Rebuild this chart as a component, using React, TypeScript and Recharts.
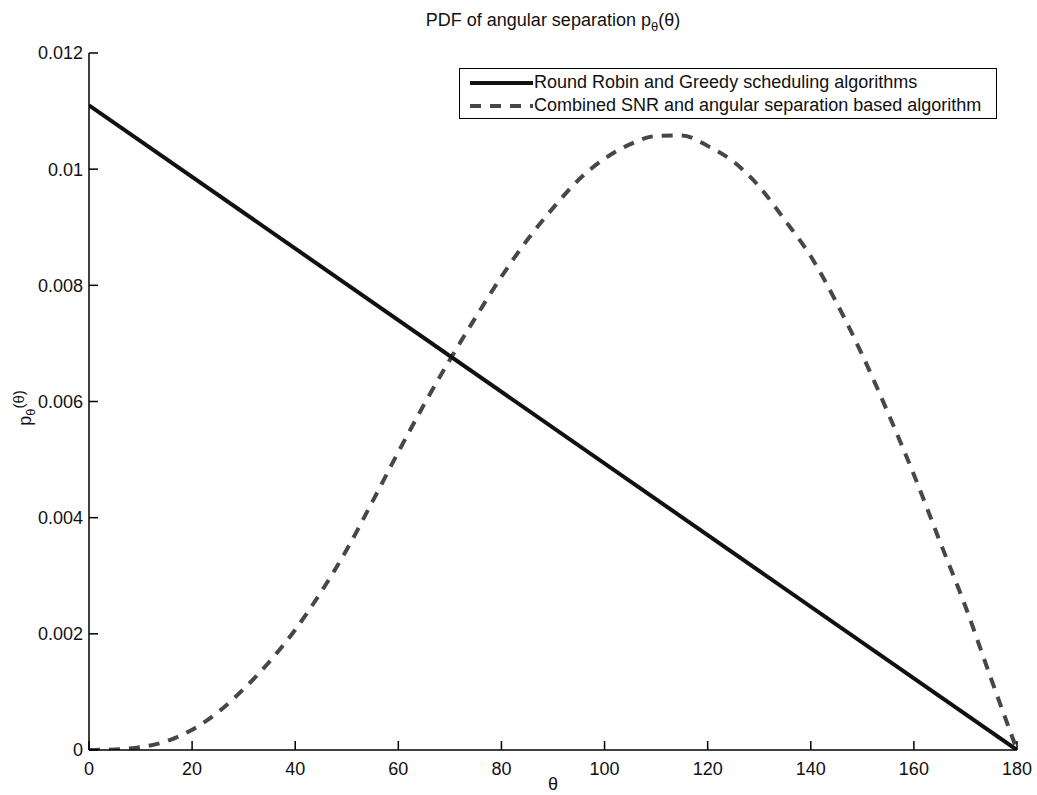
import React from 'react';
import { LineChart, Line, XAxis, YAxis, Legend } from 'recharts';

const thetaTicks = [0, 20, 40, 60, 80, 100, 120, 140, 160, 180];
const pdfTicks = [0, 0.002, 0.004, 0.006, 0.008, 0.01, 0.012];
const pdfTickLabels = ['0', '0.002', '0.004', '0.006', '0.008', '0.01', '0.012'];

const seriesNames = [
  'Round Robin and Greedy scheduling algorithms',
  'Combined SNR and angular separation based algorithm',
];

const roundRobinTheta = [0, 180];
const roundRobinPdf = [0.0111, 0];

const combinedTheta = [0, 5, 10, 15, 20, 25, 30, 35, 40, 45, 50, 55, 60, 65, 70, 75, 80, 85, 90, 95, 100, 105, 110, 115, 120, 125, 130, 135, 140, 145, 150, 155, 160, 165, 170, 175, 180];
const combinedPdf = [0, 0.00001, 0.00005, 0.00015, 0.00035, 0.00065, 0.00105, 0.00152, 0.00207, 0.00272, 0.00345, 0.00428, 0.00513, 0.00595, 0.00672, 0.00745, 0.00815, 0.00878, 0.00933, 0.00982, 0.01018, 0.01043, 0.01057, 0.01058, 0.0104, 0.01013, 0.0097, 0.00912, 0.0085, 0.0077, 0.0068, 0.0058, 0.00474, 0.0036, 0.00247, 0.00122, 0];

const roundRobinData = roundRobinTheta.map((t, i) => ({ theta: t, pdf: roundRobinPdf[i] }));
const combinedData = combinedTheta.map((t, i) => ({ theta: t, pdf: combinedPdf[i] }));

const FONT = '"Liberation Sans", Arial, Helvetica, sans-serif';
const FS = 18;
const TICK = 9;
const SOLID_COLOR = '#111111';
const DASH_COLOR = '#474747';
const DASH = '11 9';

const BottomTick = (props: any) => {
  const { x, y, payload } = props;
  return (
    <g>
      <line x1={x} x2={x} y1={y} y2={y - TICK} stroke="#000" strokeWidth={1.5} />
      <text x={x} y={y + 25} textAnchor="middle" fontSize={FS} fontFamily={FONT} fill="#111">
        {payload.value}
      </text>
    </g>
  );
};

const TopTick = (props: any) => {
  const { x, y } = props;
  return <line x1={x} x2={x} y1={y} y2={y + TICK} stroke="#000" strokeWidth={1.5} />;
};

const LeftTick = (props: any) => {
  const { x, y, payload } = props;
  const idx = pdfTicks.indexOf(payload.value);
  const label = idx >= 0 ? pdfTickLabels[idx] : String(payload.value);
  return (
    <g>
      <line x1={x} x2={x + TICK} y1={y} y2={y} stroke="#000" strokeWidth={1.5} />
      <text x={x - 6} y={y} dy="0.36em" textAnchor="end" fontSize={FS} fontFamily={FONT} fill="#111">
        {label}
      </text>
    </g>
  );
};

const RightTick = (props: any) => {
  const { x, y } = props;
  return <line x1={x} x2={x - TICK} y1={y} y2={y} stroke="#000" strokeWidth={1.5} />;
};

const renderLegend = () => {
  const items = [
    { name: seriesNames[0], color: SOLID_COLOR, dash: undefined as string | undefined },
    { name: seriesNames[1], color: DASH_COLOR, dash: DASH },
  ];
  return (
    <div
      style={{
        border: '1.5px solid #000',
        background: '#fff',
        width: 538,
        height: 51,
        boxSizing: 'border-box',
        paddingTop: 2,
        fontFamily: FONT,
        fontSize: FS,
        color: '#111',
        overflow: 'visible',
      }}
    >
      {items.map((it) => (
        <div key={it.name} style={{ display: 'flex', alignItems: 'center', height: 23, whiteSpace: 'nowrap' }}>
          <svg width={74} height={23} style={{ flex: 'none' }}>
            <line x1={10} x2={73} y1={12} y2={12} stroke={it.color} strokeWidth={4} strokeDasharray={it.dash} />
          </svg>
          <span style={{ lineHeight: '23px' }}>{it.name}</span>
        </div>
      ))}
    </div>
  );
};

export default function App() {
  return (
    <div style={{ position: 'absolute', left: 0, top: 0, width: 1037, height: 795, background: '#fff' }}>
      <LineChart
        width={1037}
        height={795}
        margin={{ top: 53, right: 20, bottom: 15, left: 29 }}
      >
        <XAxis
          xAxisId={0}
          dataKey="theta"
          type="number"
          domain={[0, 180]}
          ticks={thetaTicks}
          interval={0}
          height={30}
          tickSize={0}
          tickMargin={0}
          tick={<BottomTick />}
          axisLine={{ stroke: '#000', strokeWidth: 1.5 }}
          tickLine={false}
          allowDataOverflow
        />
        <XAxis
          xAxisId="top"
          orientation="top"
          dataKey="theta"
          type="number"
          domain={[0, 180]}
          ticks={thetaTicks}
          interval={0}
          height={0}
          tickSize={0}
          tickMargin={0}
          tick={<TopTick />}
          axisLine={{ stroke: '#000', strokeWidth: 1.5 }}
          tickLine={false}
          allowDataOverflow
        />
        <YAxis
          yAxisId={0}
          type="number"
          domain={[0, 0.012]}
          ticks={pdfTicks}
          interval={0}
          width={60}
          tickSize={0}
          tickMargin={0}
          tick={<LeftTick />}
          axisLine={{ stroke: '#000', strokeWidth: 1.5 }}
          tickLine={false}
          allowDataOverflow
        />
        <YAxis
          yAxisId="right"
          orientation="right"
          type="number"
          domain={[0, 0.012]}
          ticks={pdfTicks}
          interval={0}
          width={0}
          tickSize={0}
          tickMargin={0}
          tick={<RightTick />}
          axisLine={{ stroke: '#000', strokeWidth: 1.5 }}
          tickLine={false}
          allowDataOverflow
        />
        <Legend
          layout="vertical"
          align="center"
          verticalAlign="middle"
          content={renderLegend}
          wrapperStyle={{ left: 459, top: 68, width: 540, height: 53 }}
        />
        <Line
          data={combinedData}
          dataKey="pdf"
          name={seriesNames[1]}
          type="monotone"
          stroke={DASH_COLOR}
          strokeWidth={4}
          strokeDasharray={DASH}
          dot={false}
          activeDot={false}
          isAnimationActive={false}
        />
        <Line
          data={roundRobinData}
          dataKey="pdf"
          name={seriesNames[0]}
          type="linear"
          stroke={SOLID_COLOR}
          strokeWidth={4}
          dot={false}
          activeDot={false}
          isAnimationActive={false}
        />
      </LineChart>
      <div
        style={{
          position: 'absolute',
          left: 553,
          top: 10,
          transform: 'translateX(-50%)',
          whiteSpace: 'nowrap',
          fontFamily: FONT,
          fontSize: FS,
          color: '#111',
        }}
      >
        PDF of angular separation p<sub style={{ fontSize: 13 }}>θ</sub>(θ)
      </div>
      <div
        style={{
          position: 'absolute',
          left: 553,
          top: 774,
          transform: 'translateX(-50%)',
          fontFamily: FONT,
          fontSize: FS,
          color: '#111',
        }}
      >
        θ
      </div>
      <div
        style={{
          position: 'absolute',
          left: 24,
          top: 408,
          transform: 'translate(-50%, -50%) rotate(-90deg)',
          whiteSpace: 'nowrap',
          fontFamily: FONT,
          fontSize: FS,
          color: '#111',
        }}
      >
        p<sub style={{ fontSize: 13 }}>θ</sub><sup style={{ fontSize: 15 }}>(θ)</sup>
      </div>
    </div>
  );
}
